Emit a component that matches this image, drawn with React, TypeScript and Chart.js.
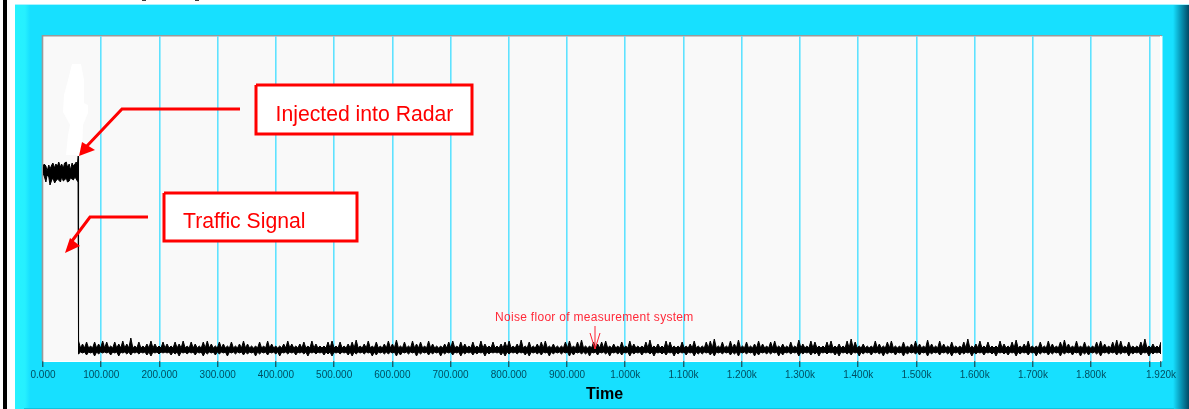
import React, { useEffect, useRef } from "react";
import { Chart, registerables } from "chart.js";

Chart.register(...registerables);

const xTickValues = [0, 100, 200, 300, 400, 500, 600, 700, 800, 900, 1000, 1100, 1200, 1300, 1400, 1500, 1600, 1700, 1800, 1900, 1920];
const xTickLabels = ["0.000", "100.000", "200.000", "300.000", "400.000", "500.000", "600.000", "700.000", "800.000", "900.000", "1.000k", "1.100k", "1.200k", "1.300k", "1.400k", "1.500k", "1.600k", "1.700k", "1.800k", "", "1.920k"];

// Injected signal, before the traffic signal stops (time, then upper and lower envelope)
const injectedTimes = [0, 2, 5, 7, 10, 12, 15, 17, 20, 22, 25, 27, 30, 32, 35, 37, 40, 42, 45, 47, 50, 52, 55, 57, 59, 60.5];
const injectedHigh = [194, 197, 195, 190, 196, 192, 196, 198, 193, 197, 195, 199, 194, 197, 193, 198, 199, 194, 197, 191, 198, 195, 197, 199, 196, 205];
const injectedLow = [188, 185, 179, 186, 184, 176, 181, 183, 178, 180, 182, 181, 179, 184, 180, 181, 183, 179, 180, 183, 182, 181, 184, 182, 180, 179];

// Noise floor after the drop: peaks of the upper and lower edge, and the solid core between them
const noiseStart = 61;
const noiseEnd = 1920;
const noiseCoreTop = 13;
const noiseCoreBottom = 9;
const noiseHigh = [
  20, 17, 19, 15, 19, 17, 20, 19, 15, 19, 17, 20, 17, 23, 15, 19, 15, 17, 20, 17, 15, 19, 17, 15, 19, 17, 20, 15, 19, 17,
  15, 19, 20, 17, 15, 19, 17, 15, 19, 15, 17, 20, 17, 15, 15, 19, 15, 20, 17, 15, 15, 17, 20, 17, 15, 17, 19, 15, 20, 17,
  15, 15, 19, 20, 15, 19, 15, 17, 19, 21, 15, 17, 20, 15, 19, 15, 17, 20, 17, 21, 15, 19, 15, 20, 17, 19, 15, 20, 17, 15,
  15, 17, 19, 20, 15, 19, 17, 15, 19, 15, 20, 17, 15, 19, 15, 17, 19, 20, 15, 17, 21, 15, 19, 15, 17, 19, 20, 15, 17, 15,
  15, 19, 20, 15, 19, 21, 15, 15, 19, 17, 19, 20, 15, 17, 15, 19, 15, 20, 17, 15, 15, 19, 21, 15, 17, 15, 20, 19, 15, 15,
  19, 15, 17, 20, 15, 15, 19, 20, 22, 15, 19, 15, 20, 17, 21, 15, 19, 15, 17, 20, 17, 15, 19, 20, 15, 17, 15, 19, 15, 21,
  17, 15, 20, 19, 15, 15, 19, 20, 15, 17, 15, 20, 22, 19, 15, 17, 15, 15, 20, 17, 15, 19, 20, 15, 15, 19, 15, 17, 20, 17,
  15, 21, 17, 15, 20, 17, 15, 19, 15, 15, 19, 22, 15, 17, 20, 15, 19, 15, 15, 20, 17, 15, 19, 21, 15, 17, 20, 15, 15, 19,
  15, 20, 17, 15, 19, 21, 17, 15, 20, 15, 19, 15, 15, 19, 20, 17, 15, 19, 21, 20, 15, 19, 15, 15, 19, 22, 15, 17, 15, 19
];
const noiseLow = [
  7, 8, 6, 8, 5, 7, 8, 8, 6, 8, 5, 8, 7, 6, 8, 7, 8, 6, 5, 8, 7, 8, 8, 6, 7, 5, 8, 7, 8, 6,
  8, 5, 7, 8, 6, 7, 8, 5, 8, 7, 8, 6, 7, 8, 5, 7, 8, 6, 8, 7, 5, 8, 7, 8, 6, 8, 7, 5, 8, 7,
  8, 6, 7, 5, 8, 7, 8, 6, 5, 7, 8, 7, 8, 5, 6, 8, 7, 7, 8, 5, 6, 8, 7, 8, 5, 7, 8, 6, 7, 8,
  5, 7, 8, 6, 8, 5, 7, 8, 6, 7, 8, 5, 7, 8, 8, 6, 5, 7, 8, 7, 8, 6, 5, 8, 7, 6, 8, 5, 7, 8,
  7, 8, 5, 6, 8, 7, 7, 5, 8, 6, 8, 7, 5, 8, 7, 6, 8, 5, 7, 8, 6, 8, 7, 5, 8, 7, 6, 8, 5, 7,
  8, 6, 8, 5, 7, 7, 8, 6, 5, 8, 7, 8, 6, 7, 5, 8, 7, 8, 5, 6, 8, 7, 7, 8, 5, 6, 8, 7, 8, 5,
  7, 8, 6, 7, 5, 8, 7, 8, 6, 5, 8, 7, 6, 8, 5, 7, 8, 6, 8, 7, 5, 7, 8, 6, 8, 5, 7, 8, 7, 6,
  8, 5, 7, 8, 6, 8, 7, 5, 8, 6, 7, 8, 5, 7, 8, 6, 8, 7, 5, 8, 7, 6, 8, 5, 7, 8, 6, 8, 5, 7,
  8, 6, 7, 8, 5, 7, 8, 6, 8, 5, 7, 6, 8, 7, 5, 8, 7, 8, 6, 7, 8, 5, 7, 8, 6, 8, 5, 7, 8, 7
];

const calloutInjected = "Injected into Radar";
const calloutTraffic = "Traffic Signal";
const calloutNoise = "Noise floor of measurement system";
const axisTitle = "Time";

const W = 1189;
const H = 409;

function poly(ctx: CanvasRenderingContext2D, pts: number[][], fill: string) {
  ctx.fillStyle = fill;
  ctx.beginPath();
  pts.forEach(([x, y], i) => (i ? ctx.lineTo(x, y) : ctx.moveTo(x, y)));
  ctx.closePath();
  ctx.fill();
}

function path(ctx: CanvasRenderingContext2D, pts: number[][], color: string, width: number) {
  ctx.strokeStyle = color;
  ctx.lineWidth = width;
  ctx.lineJoin = "miter";
  ctx.beginPath();
  pts.forEach(([x, y], i) => (i ? ctx.lineTo(x, y) : ctx.moveTo(x, y)));
  ctx.stroke();
}

const framePlugin = {
  id: "frame",
  beforeDraw(chart: any) {
    const ctx: CanvasRenderingContext2D = chart.ctx;
    ctx.save();
    ctx.fillStyle = "#ffffff";
    ctx.fillRect(0, 0, W, H);
    ctx.fillStyle = "#000000";
    ctx.fillRect(3, 0, 4, H);
    ctx.fillStyle = "#3a3a3a";
    ctx.fillRect(142, 0, 4, 1);
    ctx.fillRect(195, 0, 4, 1);
    const g = ctx.createLinearGradient(15, 0, 1189, 0);
    g.addColorStop(0, "#26f2ff");
    g.addColorStop(10 / 1174, "#26f0ff");
    g.addColorStop(15 / 1174, "#17e0ff");
    g.addColorStop(1158 / 1174, "#17e0ff");
    g.addColorStop(1166 / 1174, "#0795b5");
    g.addColorStop(1, "#004a66");
    ctx.fillStyle = g;
    ctx.fillRect(15, 4, 1174, 405);
    ctx.fillStyle = "#a8f4ff";
    ctx.fillRect(15, 4, 1174, 1);
    ctx.fillStyle = "#0fc4e0";
    ctx.fillRect(24, 408, 1150, 1);
    const { left, right, top, bottom } = chart.chartArea;
    ctx.fillStyle = "#f9f9f9";
    ctx.fillRect(left - 1, top, right - left + 2, bottom - top);
    ctx.fillStyle = "#ffffff";
    ctx.fillRect(left - 1, bottom, right - left + 2, 1);
    ctx.fillRect(right, top, 1.5, bottom - top);
    ctx.fillStyle = "#9a9a9a";
    ctx.fillRect(left - 1, top - 1, right - left + 2, 1.5);
    ctx.fillRect(left - 1.3, top - 1, 1.6, bottom - top + 1);
    poly(ctx, [[72, 64], [81, 64], [84, 80], [84, 103], [88, 105], [88, 113], [83, 125], [82, 155], [66, 155], [68, 135], [70, 125], [63, 112], [64, 95], [68, 80]], "#ffffff");
    ctx.restore();
  },
};

const calloutPlugin = {
  id: "callouts",
  afterDatasetsDraw(chart: any) {
    const ctx: CanvasRenderingContext2D = chart.ctx;
    const red = "#ff0000";
    ctx.save();
    ctx.fillStyle = "#ffffff";
    ctx.fillRect(256, 85, 216, 49);
    ctx.fillRect(164, 193, 193, 48);
    path(ctx, [[256, 85], [472, 85], [472, 134], [256, 134], [256, 85]], red, 3);
    path(ctx, [[164, 193], [357, 193], [357, 241], [164, 241], [164, 193]], red, 3);
    ctx.fillStyle = red;
    ctx.font = "21.2px 'Liberation Sans'";
    ctx.textBaseline = "middle";
    ctx.textAlign = "left";
    ctx.fillText(calloutInjected, 275.5, 115.5);
    ctx.fillText(calloutTraffic, 183, 222);
    path(ctx, [[240, 109], [122, 109], [86, 147]], red, 3);
    poly(ctx, [[79, 156], [82, 142], [95, 150]], red);
    path(ctx, [[148, 217], [90, 217], [72, 241]], red, 3);
    poly(ctx, [[65, 253], [70, 238], [80, 246]], red);
    ctx.fillStyle = "#ff2a3a";
    ctx.font = "12px 'Liberation Sans'";
    (ctx as any).letterSpacing = "0.3px";
    ctx.fillText(calloutNoise, 495, 318);
    (ctx as any).letterSpacing = "0px";
    path(ctx, [[595, 326], [595, 349]], "#ff2030", 1);
    path(ctx, [[590, 333], [595, 349], [600, 333]], "#ff2030", 1);
    ctx.fillStyle = "#000000";
    ctx.font = "bold 16px 'Liberation Sans'";
    ctx.textAlign = "center";
    ctx.fillText(axisTitle, 604.5, 394.5);
    ctx.restore();
  },
};

export default function App() {
  const ref = useRef<HTMLCanvasElement>(null);
  useEffect(() => {
    const upper: { x: number; y: number }[] = [];
    const lower: { x: number; y: number }[] = [];
    injectedTimes.forEach((t, i) => {
      upper.push({ x: t, y: injectedHigh[i] });
      lower.push({ x: t, y: injectedLow[i] });
    });
    const step = (noiseEnd - noiseStart) / (noiseHigh.length - 1);
    noiseHigh.forEach((h, i) => {
      const t = noiseStart + i * step;
      upper.push({ x: t, y: h });
      lower.push({ x: t, y: noiseLow[i] });
      if (i < noiseHigh.length - 1) {
        upper.push({ x: t + step / 2, y: noiseCoreTop });
        lower.push({ x: t + step / 2, y: noiseCoreBottom });
      }
    });
    const line = { borderColor: "#000000", borderWidth: 1, pointRadius: 0, tension: 0 };
    const chart = new Chart(ref.current!, {
      type: "line",
      data: {
        datasets: [
          { ...line, data: upper, fill: "+1", backgroundColor: "#000000" },
          { ...line, data: lower, fill: false },
        ],
      },
      plugins: [framePlugin, calloutPlugin],
      options: {
        animation: false,
        responsive: false,
        parsing: false,
        normalized: true,
        layout: { padding: { left: 43, right: 28, top: 36, bottom: 0 } },
        plugins: { legend: { display: false }, tooltip: { enabled: false }, title: { display: false } },
        scales: {
          x: {
            type: "linear",
            min: 0,
            max: 1920,
            afterBuildTicks: (s: any) => {
              s.ticks = xTickValues.map((value) => ({ value }));
            },
            afterFit: (s: any) => {
              s.height = 48;
            },
            border: { display: false },
            grid: {
              color: (c: any) => (c.index === 0 ? "rgba(0,0,0,0)" : c.index === xTickValues.length - 1 ? "#ffffff" : "#5fe2ff"),
              lineWidth: 1.6,
              tickColor: "#1a2a30",
              tickLength: 6,
              tickWidth: 1,
            },
            ticks: {
              autoSkip: false,
              maxRotation: 0,
              padding: 2,
              color: "#004d60",
              font: { family: "'Liberation Sans'", size: 10 },
              callback: (_v: any, i: number) => xTickLabels[i],
            },
          },
          y: { type: "linear", min: 0, max: 325, display: false },
        },
      },
    } as any);
    return () => chart.destroy();
  }, []);
  return (
    <div style={{ position: "fixed", left: 0, top: 0, width: W, height: H }}>
      <canvas ref={ref} width={W} height={H} style={{ display: "block" }} />
    </div>
  );
}
